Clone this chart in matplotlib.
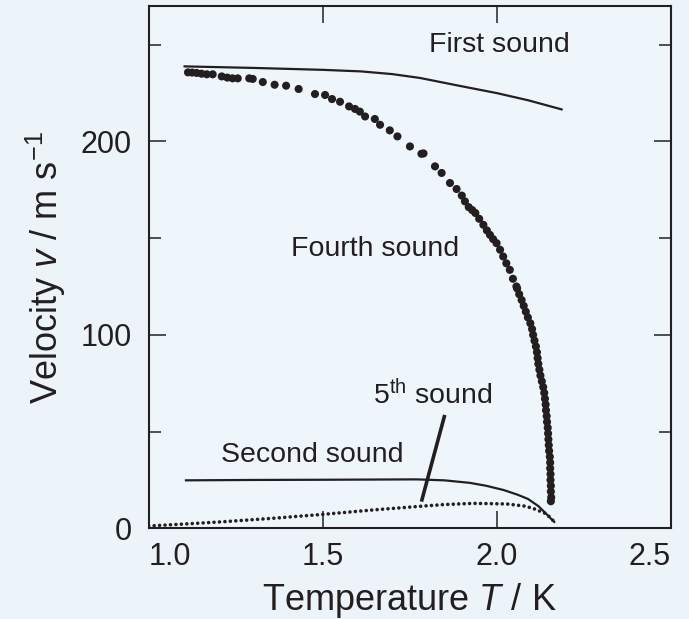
import numpy as np
import matplotlib
matplotlib.use("Agg")
import matplotlib.pyplot as plt

plt.rcParams["font.family"] = ["Liberation Sans", "DejaVu Sans"]
plt.rcParams["mathtext.fontset"] = "custom"
plt.rcParams["mathtext.rm"] = "Liberation Sans"
plt.rcParams["mathtext.it"] = "Liberation Sans:italic"

ink = "#231f20"
bg = "#edf4f9"

# first sound (solid line)
first_T = [1.10, 1.30, 1.50, 1.61, 1.70, 1.78, 1.90, 2.00, 2.09, 2.19]
first_v = [238.8, 238.0, 237.0, 236.2, 234.8, 232.8, 228.5, 225.0, 221.3, 216.4]

# fourth sound (measured points)
fourth_T = [1.113, 1.125, 1.138, 1.152, 1.167, 1.184, 1.210, 1.226, 1.241, 1.256,
            1.289, 1.299, 1.328, 1.362, 1.395, 1.431, 1.478, 1.507, 1.527, 1.550,
            1.576, 1.593, 1.607, 1.622, 1.650, 1.665, 1.693, 1.715, 1.751, 1.784,
            1.790, 1.823, 1.842, 1.866, 1.885, 1.900, 1.909, 1.920, 1.930, 1.939,
            1.950, 1.962, 1.972, 1.981, 1.990, 2.000, 2.010, 2.019, 2.028, 2.038,
            2.047, 2.057, 2.059, 2.065, 2.072, 2.078, 2.084, 2.090, 2.097, 2.102,
            2.105, 2.109, 2.113, 2.116, 2.118, 2.120, 2.123, 2.126, 2.130, 2.134,
            2.137, 2.139, 2.141, 2.142, 2.144, 2.145, 2.147, 2.148, 2.149, 2.150,
            2.151, 2.153, 2.154, 2.154, 2.155, 2.155, 2.156, 2.156, 2.157, 2.156]
fourth_v = [235.7, 235.6, 235.4, 235.0, 234.7, 234.7, 233.6, 233.0, 232.6, 232.6,
            232.6, 232.3, 230.7, 229.3, 228.8, 227.1, 224.5, 224.0, 221.9, 220.5,
            218.1, 216.8, 215.4, 212.9, 211.6, 208.6, 205.7, 202.6, 197.4, 193.6,
            193.8, 187.1, 183.7, 178.5, 175.4, 172.0, 169.0, 166.0, 164.5, 163.0,
            160.0, 156.9, 154.0, 151.7, 149.5, 147.4, 144.0, 140.5, 137.0, 133.6,
            129.0, 125.0, 124.0, 121.0, 118.0, 115.0, 112.0, 109.0, 106.0, 103.0,
            100.0, 97.0, 94.0, 91.0, 88.0, 85.0, 82.0, 79.0, 76.0, 73.0,
            70.0, 67.0, 64.0, 61.0, 58.0, 55.0, 52.0, 49.0, 46.0, 43.0,
            40.0, 37.0, 34.0, 31.0, 28.0, 25.0, 22.0, 19.0, 16.0, 14.0]

# second sound (solid line)
second_T = [1.104, 1.30, 1.50, 1.77, 1.85, 1.923, 1.97, 2.02, 2.06, 2.09, 2.12, 2.14, 2.155, 2.168]
second_v = [24.8, 25.0, 25.1, 25.3, 24.8, 23.5, 22.0, 19.8, 17.4, 15.2, 11.5, 8.0, 5.2, 2.9]

# fifth sound (dotted line)
fifth_T = [1.0, 1.1, 1.214, 1.358, 1.5, 1.645, 1.789, 1.85, 1.933, 2.029, 2.08, 2.105, 2.139, 2.155, 2.168]
fifth_v = [1.2, 2.2, 3.4, 5.2, 7.2, 9.5, 11.5, 12.3, 12.9, 12.6, 11.5, 10.3, 7.8, 5.5, 2.9]

x_ticks = [1.0, 1.5, 2.0, 2.5]
x_ticklabels = ["1.0", "1.5", "2.0", "2.5"]
y_ticks = [0, 50, 100, 150, 200, 250]
y_ticklabels = ["0", "", "100", "", "200", ""]


def draw():
    fig = plt.figure(figsize=(6.89, 6.19), dpi=100, facecolor=bg)
    ax = fig.add_axes([0.2158, 0.1465, 0.7574, 0.8438])
    ax.set_facecolor("#eff6fb")

    ax.plot(first_T, first_v, color=ink, lw=1.6, solid_capstyle="butt")
    ax.plot(second_T, second_v, color=ink, lw=1.6, solid_capstyle="butt")
    ax.plot(fifth_T, fifth_v, color=ink, lw=2.6,
            linestyle=(0, (0.01, 1.5)), dash_capstyle="round")
    ax.scatter(fourth_T, fourth_v, s=34, color=ink, edgecolors="none", zorder=3)

    # pointer for 5th sound
    ax.plot([1.784, 1.851], [13.8, 58.6], color=ink, lw=2.6, solid_capstyle="butt")

    ax.text(2.008, 250, "First sound", fontsize=20.5, color=ink, ha="center", va="center")
    ax.text(1.651, 144.3, "Fourth sound", fontsize=20.5, color=ink, ha="center", va="center")
    ax.text(1.471, 37.9, "Second sound", fontsize=20.5, color=ink, ha="center", va="center")
    ax.text(1.817, 69, "5$^{\\mathrm{th}}$ sound", fontsize=20.5, color=ink, ha="center", va="center")

    ax.set_xlim(1.0, 2.5)
    ax.set_ylim(0, 270)
    ax.set_xticks(x_ticks)
    ax.set_xticklabels(x_ticklabels)
    ax.set_yticks(y_ticks)
    ax.set_yticklabels(y_ticklabels)

    ax.tick_params(axis="both", which="major", direction="in", top=True, right=True,
                   length=12.5, width=1.1, color=ink, labelcolor=ink, labelsize=22)
    ax.tick_params(axis="x", pad=10)
    ax.tick_params(axis="y", pad=12)
    # end labels on the x axis sit inside the frame width
    xlabs = ax.get_xticklabels()
    xlabs[0].set_horizontalalignment("left")
    xlabs[-1].set_horizontalalignment("right")
    # shorter ticks for the unlabelled values
    for tick, lab in zip(ax.yaxis.get_major_ticks(), y_ticklabels):
        if lab == "":
            tick.tick1line.set_markersize(8.5)
            tick.tick2line.set_markersize(8.5)
    for tick in ax.xaxis.get_major_ticks()[::3]:
        tick.tick2line.set_markersize(0)

    for sp in ax.spines.values():
        sp.set_linewidth(1.5)
        sp.set_color(ink)

    ax.set_xlabel("Temperature $T$ / K", fontsize=26, color=ink, labelpad=6)
    ax.set_ylabel("Velocity $v$ / m s$^{-1}$", fontsize=26, color=ink, labelpad=9)

    fig.savefig("out.png", dpi=100, facecolor=bg)
    plt.close("all")


if __name__ == "__main__":
    draw()
